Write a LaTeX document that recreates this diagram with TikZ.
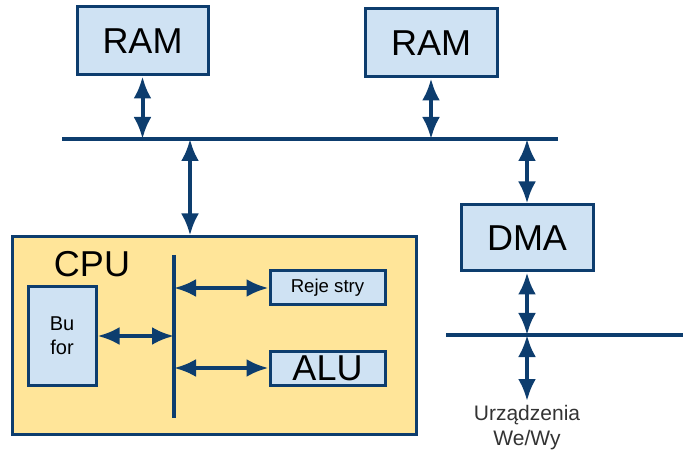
\documentclass[tikz,border=0pt]{standalone}
\usepackage{fontspec}
\setmainfont{Liberation Sans}
\usetikzlibrary{
  arrows.meta,
  positioning,
}
\definecolor{ramfill}{RGB}{207, 226, 243}
\definecolor{busblue}{RGB}{13, 61, 110}
\definecolor{cpufill}{RGB}{255, 229, 153}
\tikzstyle{link} = [
  {Latex[length=11pt,width=9pt]}-{Latex[length=11pt,width=9pt]},
  line width=2pt,
  busblue,
]
\tikzstyle{bus} = [
  line width=1.6pt,
  busblue,
]

\begin{document}
\begin{tikzpicture}[x=0.5pt, y=-0.5pt,
                    box/.style={draw=busblue, fill=ramfill,
                                line width=1.5pt, inner sep=0pt},
                    big/.style={font=\fontsize{18}{20}\selectfont},
                    small/.style={font=\fontsize{10}{12}\selectfont,
                                  align=center}]
    \useasboundingbox (0,0) rectangle (683,453);
    % system bus and I/O bus
    \coordinate (busw) at (62,139);
    \coordinate (buse) at (558,139);
    \draw [bus] (busw) -- (buse);
    \coordinate (iow) at (446,335);
    \coordinate (ioe) at (683,335);
    \draw [bus] (iow) -- (ioe);
    % memory
    \node [box, big, minimum width=65.5pt, minimum height=34pt]
          (ram1) at (142.5,41) {RAM};
    \node [box, big, minimum width=66pt, minimum height=34pt]
          (ram2) at (431,43) {RAM};
    \draw [link] (ram1.south) -- (ram1.south |- busw);
    \draw [link] (ram2.south) -- (ram2.south |- busw);
    % processor
    \node [draw=busblue, fill=cpufill, line width=1.5pt,
           minimum width=202pt, minimum height=98.5pt]
          (cpu) at (214,335.5) {};
    \node [big, inner sep=0pt] (cpulabel) at (92,264) {CPU};
    \coordinate (cputap) at (190,139);
    \draw [link] (cputap) -- (cputap |- cpu.north);
    \coordinate (inbust) at (174,255);
    \coordinate (inbusb) at (174,418);
    \draw [bus, line width=2pt] (inbust) -- (inbusb);
    \node [box, small, minimum width=34pt, minimum height=49pt]
          (bufor) at (62,336) {Bu\\for};
    \node [box, font=\fontsize{9.3}{11}\selectfont,
           minimum width=57.5pt, minimum height=17pt]
          (rej) at (327.5,288) {Reje stry};
    \node [box, big, minimum width=57.5pt, minimum height=17pt]
          (alu) at (327.5,368) {ALU};
    \draw [link] (bufor.east) -- (bufor.east -| inbust);
    \draw [link] (rej.west -| inbust) -- (rej.west);
    \draw [link] (alu.west -| inbust) -- (alu.west);
    % DMA and devices
    \node [box, big, minimum width=66pt, minimum height=33pt]
          (dma) at (527,238) {DMA};
    \draw [link] (dma.north |- busw) -- (dma.north);
    \draw [link] (dma.south) -- (dma.south |- iow);
    \node [small, font=\fontsize{10.5}{12.5}\selectfont, text=black!80,
           anchor=north, inner sep=0pt]
          (dev) at (527,405) {Urządzenia\\We/Wy};
    \coordinate (iotap) at (dma.south |- iow);
    \draw [link, shorten >=2pt] (iotap) -- (dev.north);
\end{tikzpicture}
\end{document}
